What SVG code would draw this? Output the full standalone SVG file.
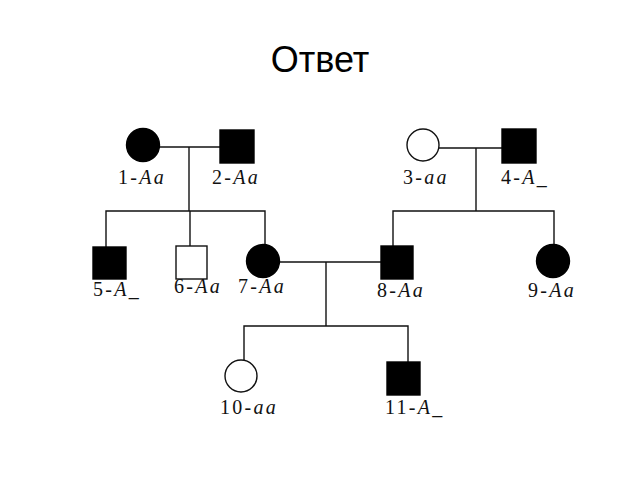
<svg xmlns="http://www.w3.org/2000/svg" width="640" height="480" viewBox="0 0 640 480">
<style>
.ln{stroke:#111;stroke-width:1.4;fill:none}
.aff{fill:#000;stroke:#000;stroke-width:1.4}
.un{fill:#fff;stroke:#111;stroke-width:1.4}
.lb{font-family:"Liberation Serif",serif;font-size:20px;letter-spacing:2.3px;fill:#111}
.g{font-style:italic}
.title{font-family:"Liberation Sans",Arial,sans-serif;font-size:36px;fill:#000}
</style>
<rect width="640" height="480" fill="#fff"/>
<text class="title" x="320" y="72" text-anchor="middle">Ответ</text>
<g id="connectors">
<line class="ln" x1="158" y1="147" x2="220" y2="147"/>
<line class="ln" x1="189" y1="147" x2="189" y2="211"/>
<polyline class="ln" points="106,247 106,211 265,211 265,244"/>
<line class="ln" x1="190" y1="211" x2="190" y2="246"/>
<line class="ln" x1="439" y1="148" x2="502" y2="148"/>
<line class="ln" x1="476" y1="148" x2="476" y2="211"/>
<polyline class="ln" points="393,246 393,211 554,211 554,244"/>
<line class="ln" x1="280" y1="262" x2="381" y2="262"/>
<line class="ln" x1="326" y1="262" x2="326" y2="326"/>
<polyline class="ln" points="244,360 244,326 408,326 408,362"/>
</g>
<g id="n1"><circle class="aff" cx="143" cy="145" r="16.5"/><text class="lb" x="118" y="184">1-<tspan class="g">Aa</tspan></text></g>
<g id="n2"><rect class="aff" x="220" y="130" width="34" height="33"/><text class="lb" x="212" y="184">2-<tspan class="g">Aa</tspan></text></g>
<g id="n3"><circle class="un" cx="423" cy="145" r="16"/><text class="lb" x="403" y="184">3-<tspan class="g">aa</tspan></text></g>
<g id="n4"><rect class="aff" x="502" y="129" width="34" height="34"/><text class="lb" x="501" y="184">4-<tspan class="g">A</tspan>_</text></g>
<g id="n5"><rect class="aff" x="93" y="247" width="33" height="32"/><text class="lb" x="93" y="296">5-<tspan class="g">A</tspan>_</text></g>
<g id="n6"><rect class="un" x="176" y="246" width="31" height="33"/><text class="lb" x="174" y="293">6-<tspan class="g">Aa</tspan></text></g>
<g id="n7"><circle class="aff" cx="263" cy="261" r="16.5"/><text class="lb" x="238" y="293">7-<tspan class="g">Aa</tspan></text></g>
<g id="n8"><rect class="aff" x="381" y="246" width="32" height="33"/><text class="lb" x="377" y="297">8-<tspan class="g">Aa</tspan></text></g>
<g id="n9"><circle class="aff" cx="553" cy="261" r="16.5"/><text class="lb" x="528" y="297">9-<tspan class="g">Aa</tspan></text></g>
<g id="n10"><circle class="un" cx="241" cy="376" r="16"/><text class="lb" x="220" y="414">10-<tspan class="g">aa</tspan></text></g>
<g id="n11"><rect class="aff" x="387" y="362" width="33" height="33"/><text class="lb" x="385" y="414">11-<tspan class="g">A</tspan>_</text></g>
</svg>
